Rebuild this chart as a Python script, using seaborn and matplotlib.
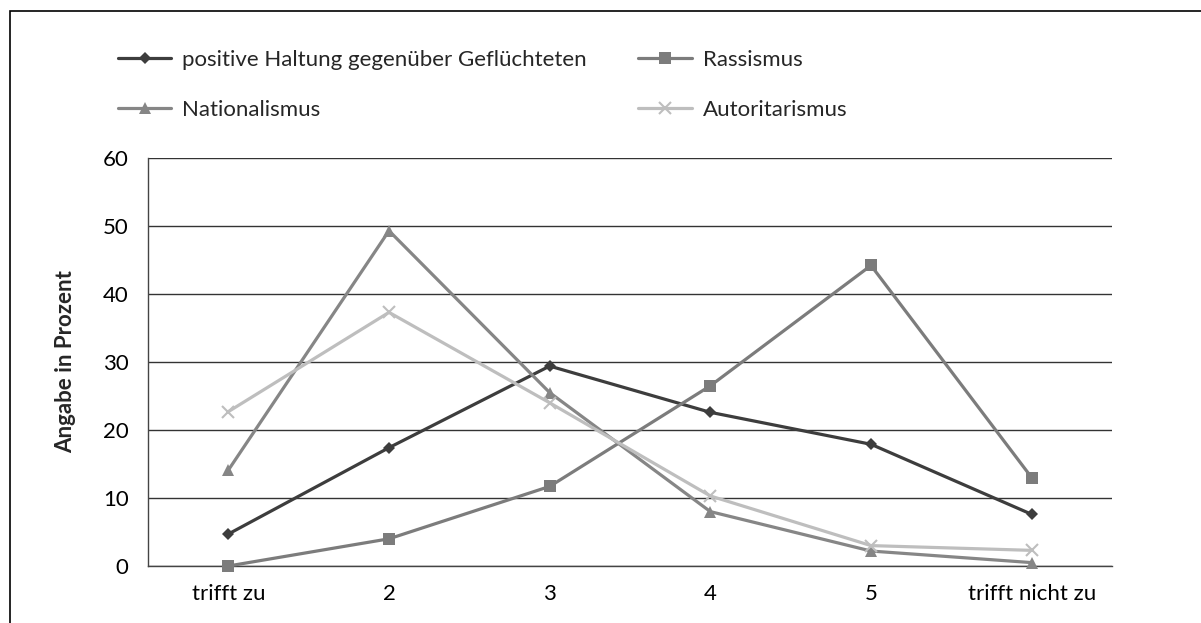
import seaborn as sns
import pandas as pd
import matplotlib.pyplot as plt
from matplotlib.patches import Rectangle

categories = ["trifft zu", "2", "3", "4", "5", "trifft nicht zu"]
positive = [4.7, 17.4, 29.4, 22.6, 17.9, 7.6]
rassismus = [0.0, 4.0, 11.7, 26.5, 44.2, 13.0]
nationalismus = [14.1, 49.3, 25.5, 8.0, 2.2, 0.5]
autoritarismus = [22.7, 37.3, 24.0, 10.3, 3.0, 2.3]

names = ["positive Haltung gegenüber Geflüchteten", "Rassismus",
         "Nationalismus", "Autoritarismus"]
series = [positive, rassismus, nationalismus, autoritarismus]

rows = []
for name, vals in zip(names, series):
    for i, (cat, v) in enumerate(zip(categories, vals)):
        rows.append({"pos": i, "Kategorie": cat, "Wert": v, "Reihe": name})
df = pd.DataFrame(rows)

colors = {names[0]: "#3d3d3d", names[1]: "#7c7c7c",
          names[2]: "#868686", names[3]: "#bebebe"}
markers = {names[0]: "D", names[1]: "s", names[2]: "^", names[3]: "x"}
msizes = {names[0]: 6, names[1]: 8.5, names[2]: 9, names[3]: 9}

sns.set_style("white")
plt.rcParams["font.family"] = ["Lato", "DejaVu Sans"]

fig = plt.figure(figsize=(12.01, 6.23), dpi=100)
ax = fig.add_axes([148 / 1201, 1 - 566 / 623, (1112 - 148) / 1201, (566 - 158) / 623])

for name in names:
    sns.lineplot(data=df[df["Reihe"] == name], x="pos", y="Wert", ax=ax,
                 color=colors[name], marker=markers[name],
                 markersize=msizes[name], markeredgewidth=1.5 if name == names[3] else 0,
                 markeredgecolor=colors[name], linewidth=2.3, label=name,
                 legend=False, clip_on=False, zorder=3)

ax.set_xlim(-0.5, 5.5)
ax.set_ylim(0, 60)
ax.set_yticks(range(0, 61, 10))
ax.set_xticks(range(len(categories)))
ax.set_xticklabels(categories)
ax.tick_params(axis="both", length=0, labelsize=16, colors="black")
ax.tick_params(axis="x", pad=13)
ax.tick_params(axis="y", pad=14)
ax.grid(axis="y", color="#333333", linewidth=1.0)
ax.set_axisbelow(True)
for side in ["top", "right"]:
    ax.spines[side].set_visible(False)
for side in ["left", "bottom"]:
    ax.spines[side].set_color("#444444")
    ax.spines[side].set_linewidth(1.0)
ax.set_xlabel("")
ax.set_ylabel("Angabe in Prozent", fontsize=16, fontweight="bold", labelpad=19)

handles, labels = ax.get_legend_handles_labels()
order = [0, 2, 1, 3]
fig.legend([handles[i] for i in order], [labels[i] for i in order],
           loc="upper left", bbox_to_anchor=(118 / 1201, 1 - 50 / 623),
           ncol=2, frameon=False, fontsize=16, handlelength=2.4,
           handletextpad=0.5, columnspacing=2.3, labelspacing=1.35,
           borderpad=0, borderaxespad=0)

fig.add_artist(Rectangle((10 / 1201, -0.05), 1.1, 1 - 11 / 623 + 0.05,
                         transform=fig.transFigure, fill=False,
                         edgecolor="black", linewidth=1.2))

plt.savefig("out.png", dpi=100)
